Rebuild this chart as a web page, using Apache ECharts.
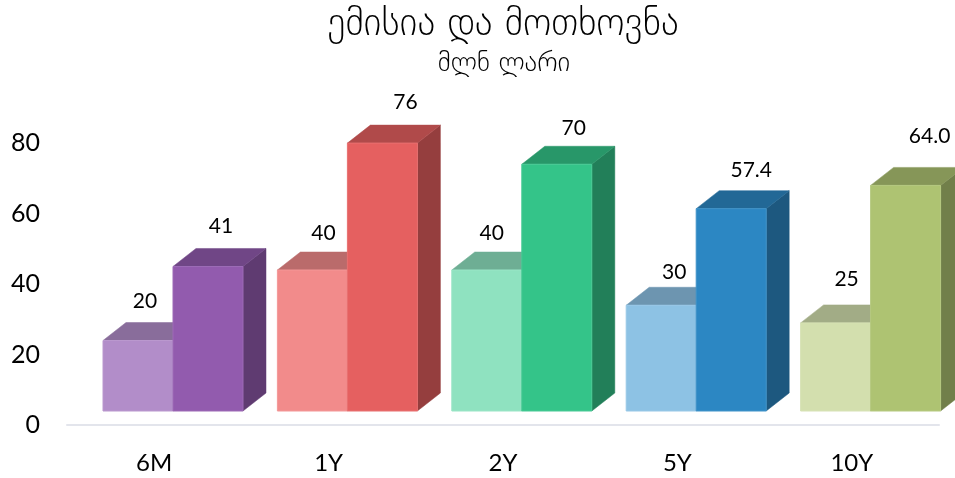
<!DOCTYPE html>
<html>
<head>
<meta charset="utf-8">
<style>html,body{margin:0;padding:0;background:#fff}#c{width:955px;height:478px}</style>
<script src="https://cdn.jsdelivr.net/npm/echarts@6/dist/echarts.min.js"></script>
</head>
<body>
<div id="c"></div>
<script>
const categories = ['6M', '1Y', '2Y', '5Y', '10Y'];
const emission = [20, 40, 40, 30, 25];
const demand = [41, 76, 70, 57.4, 64.0];
const emissionLabels = ['20', '40', '40', '30', '25'];
const demandLabels = ['41', '76', '70', '57.4', '64.0'];
const yTicks = [0, 20, 40, 60, 80];
const lightColors = ['#B28DC9', '#F28B8B', '#8FE2C0', '#8DC2E4', '#D3DFAE'];
const darkColors = ['#925BAE', '#E56060', '#34C489', '#2C87C3', '#AEC372'];
const lightLabelNudge = [[7, -39], [11, -37], [5, -37], [13, -33], [11, -44]];
const darkLabelNudge = [[13, -40], [23, -41], [17, -36], [20, -38], [24, -49]];

const FLOOR_LIFT = 14, DEPTH_X = 23, DEPTH_Y = 18, BAR_W = 70, GROUP_SHIFT = 18.8;
const FONT = 'Lato, sans-serif';

function shade(hex, k) {
  const n = parseInt(hex.slice(1), 16);
  const c = [n >> 16, (n >> 8) & 255, n & 255].map(v => Math.round(v * k));
  return `rgb(${c[0]},${c[1]},${c[2]})`;
}
function tint(hex, k) {
  const n = parseInt(hex.slice(1), 16);
  const c = [n >> 16, (n >> 8) & 255, n & 255].map(v => Math.round(v + (255 - v) * k));
  return `rgb(${c[0]},${c[1]},${c[2]})`;
}

function makeRenderer(colors, labels, nudge, side) {
  return function (params, api) {
    const i = api.value(0), v = api.value(1);
    const base = api.coord([i, 0]);
    const top = api.coord([i, v]);
    const yb = base[1] - FLOOR_LIFT, yt = top[1] - FLOOR_LIFT;
    const xc = base[0] + GROUP_SHIFT;
    const x0 = side < 0 ? xc - BAR_W : xc;
    const x1 = x0 + BAR_W;
    const col = colors[i];
    const poly = (points, fill) => ({
      type: 'polygon',
      shape: { points },
      style: { fill, stroke: fill, lineWidth: 0.5 }
    });
    return {
      type: 'group',
      children: [
        poly([[x1, yb], [x1, yt], [x1 + DEPTH_X, yt - DEPTH_Y], [x1 + DEPTH_X, yb - DEPTH_Y]], shade(col, 0.65)),
        poly([[x0, yt], [x0 + DEPTH_X, yt - DEPTH_Y], [x1 + DEPTH_X, yt - DEPTH_Y], [x1, yt]], shade(col, 0.77)),
        {
          type: 'rect',
          shape: { x: x0, y: yt, width: BAR_W, height: yb - yt },
          style: { fill: col, stroke: tint(col, 0.1), lineWidth: 1 }
        },
        {
          type: 'text',
          style: {
            text: labels[i],
            x: (x0 + x1) / 2 + nudge[i][0],
            y: yt + nudge[i][1],
            align: 'center',
            verticalAlign: 'middle',
            fill: '#000',
            font: '21px ' + FONT
          }
        }
      ]
    };
  };
}

const chart = echarts.init(document.getElementById('c'), null, { renderer: 'canvas' });
chart.setOption({
  animation: false,
  backgroundColor: '#fff',
  title: [
    {
      text: 'ემისია და მოთხოვნა', left: 498, top: 1, textAlign: 'center',
      textStyle: { fontFamily: '"DejaVu Sans"', fontWeight: 200, fontSize: 38, color: '#000' }
    },
    {
      text: 'მლნ ლარი', left: 499, top: 45, textAlign: 'center',
      textStyle: { fontFamily: '"DejaVu Sans"', fontWeight: 200, fontSize: 27, color: '#000' }
    }
  ],
  grid: { left: 67, right: 16, top: 143, bottom: 53 },
  xAxis: {
    type: 'category',
    data: categories,
    axisTick: { show: false },
    axisLine: { lineStyle: { color: '#E3E5EC', width: 2 } },
    axisLabel: { fontFamily: FONT, fontSize: 24, color: '#000', margin: 26 }
  },
  yAxis: {
    type: 'value',
    min: yTicks[0],
    max: yTicks[yTicks.length - 1],
    interval: yTicks[1] - yTicks[0],
    axisLine: { show: false },
    axisTick: { show: false },
    splitLine: { show: false },
    axisLabel: { fontFamily: FONT, fontSize: 25, color: '#000', margin: 27, padding: [3, 0, 0, 0] }
  },
  series: [
    {
      type: 'custom', clip: false, coordinateSystem: 'cartesian2d',
      encode: { x: 0, y: 1 },
      data: emission.map((v, i) => [i, v]),
      renderItem: makeRenderer(lightColors, emissionLabels, lightLabelNudge, -1)
    },
    {
      type: 'custom', clip: false, coordinateSystem: 'cartesian2d',
      encode: { x: 0, y: 1 },
      data: demand.map((v, i) => [i, v]),
      renderItem: makeRenderer(darkColors, demandLabels, darkLabelNudge, 1)
    }
  ]
});
</script>
</body>
</html>
